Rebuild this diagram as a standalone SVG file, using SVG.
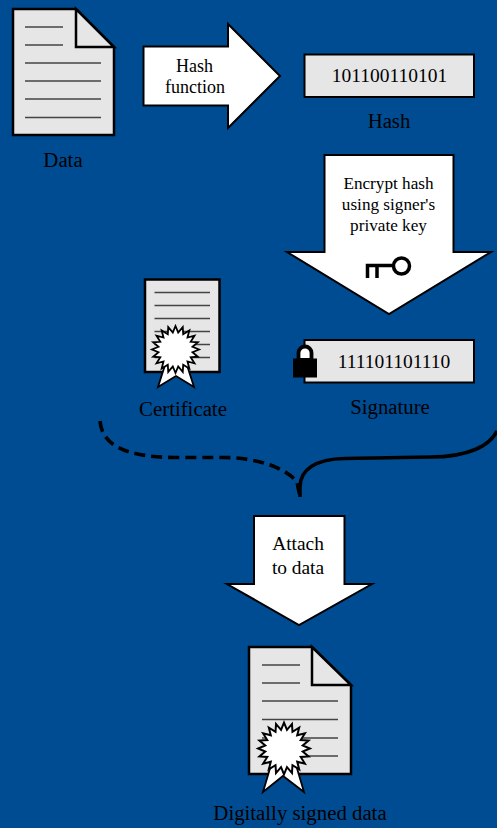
<svg xmlns="http://www.w3.org/2000/svg" width="497" height="828" viewBox="0 0 497 828">
<defs>
<path id="star" d="M0 -23.5L2.7 -17L7.26 -22.35L7.7 -15.2L13.82 -19.01L12 -12L19.01 -13.82L15.2 -7.7L22.35 -7.26L17 -2.7L23.5 0L17 2.7L22.35 7.26L15.2 7.7L19.01 13.82L12 12L13.82 19.01L7.7 15.2L7.26 22.35L2.7 17L0 23.5L-2.7 17L-7.26 22.35L-7.7 15.2L-13.82 19.01L-12 12L-19.01 13.82L-15.2 7.7L-22.35 7.26L-17 2.7L-23.5 0L-17 -2.7L-22.35 -7.26L-15.2 -7.7L-19.01 -13.82L-12 -12L-13.82 -19.01L-7.7 -15.2L-7.26 -22.35L-2.7 -17Z"/>
</defs>
<style>
text{font-family:"Liberation Serif","Times New Roman",serif;fill:#000;text-anchor:middle}
.cap{font-size:20.8px}
.lab{font-size:18px}
.bin{font-size:19.5px}
.enc{font-size:17.2px}
.att{font-size:19.4px}
.arrow{fill:#fff;stroke:#000;stroke-width:2;stroke-linejoin:miter}
.paper{fill:#e6e6e6;stroke:#000;stroke-width:2.5;stroke-linejoin:miter}
.box{fill:#e6e6e6;stroke:#000;stroke-width:2}
.ln{stroke:#444;stroke-width:1.5;fill:none}
.seal{fill:#fff;stroke:#000;stroke-width:1.8;stroke-linejoin:miter}
.curve{fill:none;stroke:#000;stroke-width:3.6}
</style>
<rect width="497" height="828" fill="#004c93"/>
<g id="connectors">
<path class="curve" stroke-dasharray="11 6" d="M100 421C102 445 125 457 175 457.500L225 457.500C258 458 286 468 297 482L300 497"/>
<path class="curve" d="M300 497V487C300 470 315 459 345 458.500L430 457C470 457 490 445 497 431"/>
</g>
<g id="data">
<path class="paper" d="M13 9H76L114 47V135H13Z"/>
<path class="paper" d="M76 9V47H114Z"/>
<path class="ln" d="M25 27H63M25 45H63M25 63H101M25 81H101M25 99H101M25 117.500H101"/>
<text class="cap" x="63" y="167">Data</text>
</g>
<g id="hash-function">
<path class="arrow" d="M143.500 46.500H228V24L280 76L228 128V105.500H143.500Z"/>
<text class="lab" x="194.500" y="72">Hash</text>
<text class="lab" x="195" y="93">function</text>
</g>
<g id="hash">
<rect class="box" x="304.500" y="54.500" width="169.500" height="42.500"/>
<text class="bin" x="389.500" y="82">101100110101</text>
<text class="cap" x="389" y="128">Hash</text>
</g>
<g id="encrypt-hash">
<path class="arrow" d="M324.500 155H453.500V252H491L389 314L287 252H324.500Z"/>
<text class="enc" x="388.500" y="189">Encrypt hash</text>
<text class="enc" x="388.500" y="210">using signer's</text>
<text class="enc" x="388.500" y="231">private key</text>
<g id="key">
<circle cx="401.500" cy="266" r="8" fill="none" stroke="#000" stroke-width="3.500"/>
<path d="M393 265.500H367.500V278M377 265.500V278" fill="none" stroke="#000" stroke-width="3.500"/>
</g>
</g>
<g id="certificate">
<rect class="paper" x="145" y="279.500" width="74.500" height="92.500"/>
<path class="ln" d="M154.500 292.500H210M154.500 305.500H210M154.500 318.500H210M154.500 331.500H210M154.500 344.500H210M154.500 357.500H210"/>
<path class="seal" d="M166 362L158 387L176 376L194 387L186 362Z"/>
<use href="#star" class="seal" transform="translate(175.500 349.500)"/>
<text class="cap" x="183" y="416">Certificate</text>
</g>
<g id="signature">
<rect class="box" x="304.500" y="340" width="169.500" height="42.500"/>
<path d="M298.500 360V353A6.500 6.500 0 0 1 311.500 353V360Z" fill="#fff" stroke="#000" stroke-width="3.800"/>
<rect x="293" y="358.500" width="24" height="19" fill="#000"/>
<text class="bin" x="394" y="368">111101101110</text>
<text class="cap" x="390" y="414">Signature</text>
</g>
<g id="attach">
<path class="arrow" d="M254 516H344.500V584H372L299 625L227 584H254Z"/>
<text class="att" x="298" y="550">Attach</text>
<text class="att" x="298" y="574">to data</text>
</g>
<g id="signed-data">
<path class="paper" d="M249 647H312L351 685V774H249Z"/>
<path class="paper" d="M312 647V685H351Z"/>
<path class="ln" d="M262 665H300M262 683H300M262 701H338M262 719.500H338M262 738H338M262 756H338"/>
<path class="seal" d="M271 765L263 792L283 776L304 792L296 765Z"/>
<use href="#star" class="seal" transform="translate(284 748.500) scale(1.1)"/>
<text class="cap" x="300" y="820">Digitally signed data</text>
</g>
</svg>
